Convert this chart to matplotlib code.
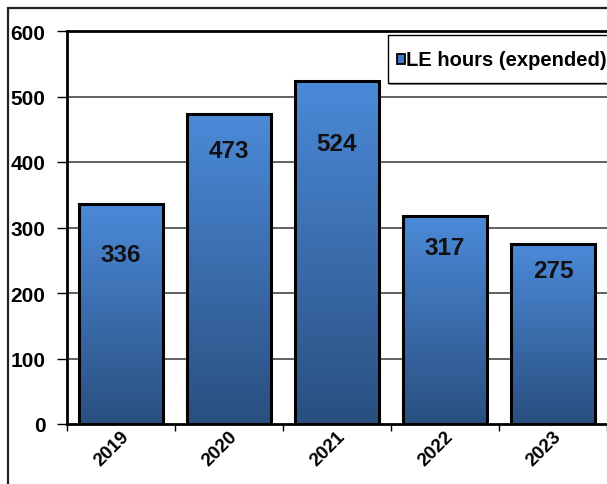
import matplotlib
matplotlib.use("Agg")
import matplotlib.pyplot as plt
import numpy as np
from matplotlib.colors import LinearSegmentedColormap
from matplotlib.patches import Rectangle

plt.rcParams["font.family"] = ["Liberation Sans", "DejaVu Sans"]
plt.rcParams["font.weight"] = "bold"

years = ["2019", "2020", "2021", "2022", "2023"]
hours = [336, 473, 524, 317, 275]
# where the value labels sit (data units)
label_y = [259, 417, 429, 270, 234]
yticks = [0, 100, 200, 300, 400, 500, 600]
legend_label = "LE hours (expended)"

W, H = 607, 485
fig = plt.figure(figsize=(W / 100, H / 100), dpi=100)

# axes: left edge x=67, top y=32, zero line y=425, runs off the right edge
ax = fig.add_axes([67 / W, 60 / H, 540 / W, 393 / H])
ax.set_xlim(-0.5, 4.5)
ax.set_ylim(0, 600)

cmap = LinearSegmentedColormap.from_list("bar", ["#2a4f80", "#4b8ad9"])
grad = np.linspace(0, 1, 256).reshape(-1, 1)
bw = 0.78
for i, v in enumerate(hours):
    x0 = i - bw / 2
    im = ax.imshow(grad, extent=[x0, x0 + bw, 0, v], origin="lower", cmap=cmap,
                   aspect="auto", zorder=2, interpolation="bicubic")
    r = Rectangle((x0, 0), bw, v, facecolor="none", edgecolor="black",
                  linewidth=2.2, zorder=3)
    ax.add_patch(r)
    im.set_clip_path(r)
    ax.text(i, label_y[i], str(v), ha="center", va="center", fontsize=17.5,
            fontweight="bold", color="#111111", zorder=4)
ax.set_aspect("auto")

for y in yticks[1:-1]:
    ax.axhline(y, color="#555555", linewidth=1.3, zorder=1)

ax.set_yticks(yticks)
ax.set_yticklabels([str(t) for t in yticks], fontsize=15, fontweight="bold")
ax.set_xticks(np.arange(-0.5, 4.6, 1), minor=False)
ax.set_xticklabels([])
ax.set_xticks(range(len(years)), minor=True)
ax.set_xticklabels(years, minor=True, rotation=45, ha="right", va="center",
                   rotation_mode="anchor", fontsize=13.5, fontweight="bold")
for lbl in ax.get_xticklabels(minor=True):
    lbl.set_x(lbl.get_position()[0])
ax.tick_params(axis="x", which="minor", length=0, pad=7)
ax.tick_params(axis="x", which="major", length=5, width=1, direction="out")
ax.tick_params(axis="y", length=7, width=1, direction="out", pad=8.5)

# nudge the rotated year labels a bit to the right, like the original
import matplotlib.transforms as mtrans
shift = mtrans.ScaledTranslation(6 / 100, 0, fig.dpi_scale_trans)
for lbl in ax.get_xticklabels(minor=True):
    lbl.set_transform(lbl.get_transform() + shift)

for s in ["left", "top", "bottom"]:
    ax.spines[s].set_linewidth(2)
    ax.spines[s].set_color("black")
ax.spines["right"].set_visible(False)

# legend box, cut off at the right edge
fig.patches.append(Rectangle((389 / W, 1 - 86 / H), 230 / W, 50 / H,
                             transform=fig.transFigure, facecolor="#888888",
                             edgecolor="none", zorder=5))
fig.patches.append(Rectangle((388 / W, 1 - 84 / H), 230 / W, 48 / H,
                             transform=fig.transFigure, facecolor="white",
                             edgecolor="black", linewidth=1, zorder=6))
fig.patches.append(Rectangle((397 / W, 1 - 65 / H), 8 / W, 10 / H,
                             transform=fig.transFigure, facecolor="#3f78c4",
                             edgecolor="black", linewidth=1.3, zorder=7))
fig.text(406 / W, 1 - 60 / H, legend_label, fontsize=14.5, fontweight="bold",
         ha="left", va="center", zorder=8)

# outer chart frame, also cut off
fig.patches.append(Rectangle((8 / W, -0.1), 1.2, 1 - 9 / H + 0.1,
                             transform=fig.transFigure, facecolor="none",
                             edgecolor="#222222", linewidth=1.6, zorder=0))

fig.savefig("out.png", dpi=100)
